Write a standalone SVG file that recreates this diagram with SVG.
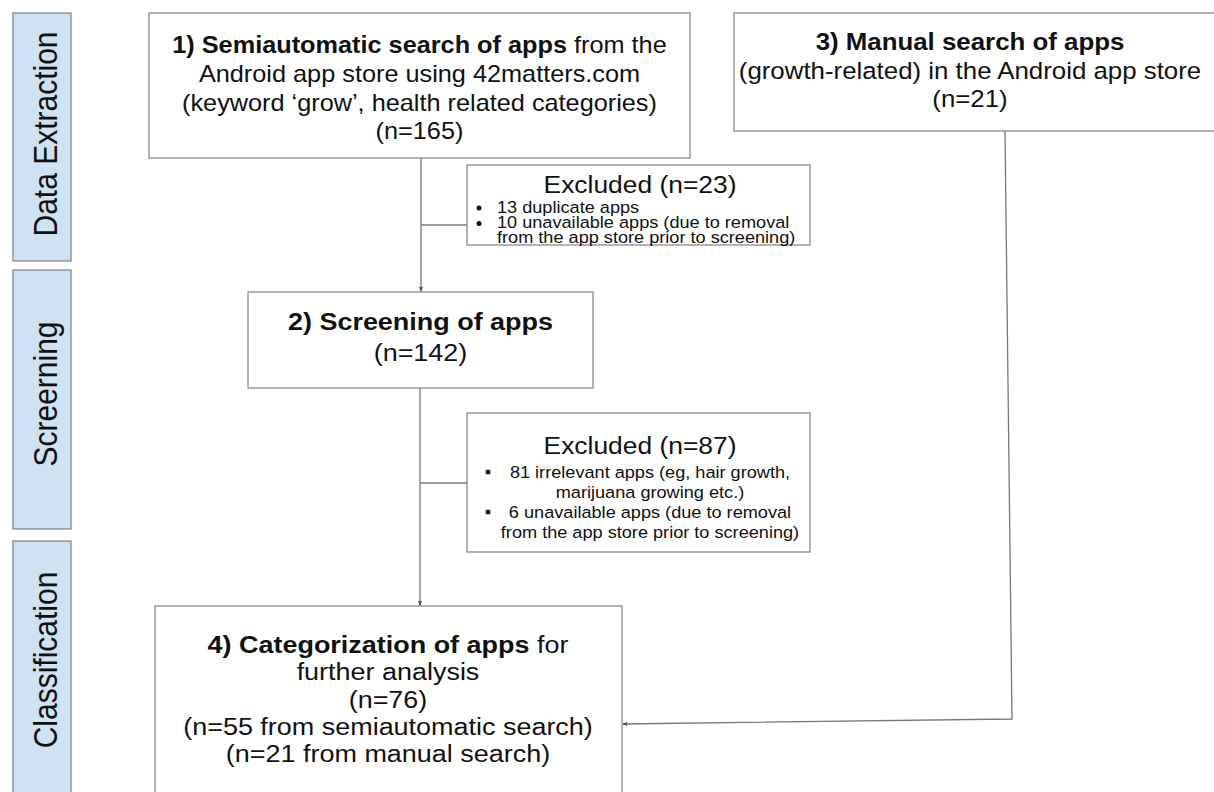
<svg xmlns="http://www.w3.org/2000/svg" width="1214" height="792" viewBox="0 0 1214 792">
<style>
.lane{fill:#cfe2f3;stroke:#7f7f7f;stroke-width:1.2}
.lab{font-family:"Liberation Sans",Arial,sans-serif;font-size:30px;fill:#111;text-anchor:middle}
.box{fill:#fff;stroke:#8a8a8a;stroke-width:1.3}
.t{font-family:"Liberation Sans",Arial,sans-serif;fill:#111;text-anchor:middle}
.b{font-weight:bold}
.et{font-family:"Liberation Sans",Arial,sans-serif;font-size:24px;fill:#111;text-anchor:middle}
.s{font-family:"Liberation Sans",Arial,sans-serif;font-size:16.5px;fill:#111}
.c{fill:none;stroke:#777;stroke-width:1.3}
.dot{fill:#111}
</style>
<defs>
<marker id="ah" markerWidth="6" markerHeight="6" refX="5" refY="3" orient="auto" markerUnits="userSpaceOnUse">
<path d="M0,1 L5,3 L0,5 z" fill="#555"/>
</marker>
</defs>
<rect width="1214" height="792" fill="#fff"/>
<g id="lane-data-extraction">
<rect class="lane" x="13" y="13" width="58" height="248"/>
<text class="lab" transform="translate(57,134) scale(1.1,1) rotate(-90)">Data Extraction</text>
</g>
<g id="lane-screening">
<rect class="lane" x="13" y="270" width="58" height="259"/>
<text class="lab" transform="translate(57,394) scale(1.1,1) rotate(-90)">Screerning</text>
</g>
<g id="lane-classification">
<rect class="lane" x="13" y="541" width="58" height="270"/>
<text class="lab" transform="translate(57,660) scale(1.1,1) rotate(-90)">Classification</text>
</g>
<g id="connectors">
<line class="c" x1="421" y1="158" x2="421" y2="292" marker-end="url(#ah)"/>
<line class="c" x1="421" y1="225" x2="467" y2="225"/>
<line class="c" x1="420" y1="388" x2="420" y2="606" marker-end="url(#ah)"/>
<line class="c" x1="420" y1="483" x2="467" y2="483"/>
<polyline class="c" points="1005,131 1012,719 622,724" marker-end="url(#ah)"/>
</g>
<g id="node1">
<rect class="box" x="149" y="13" width="541" height="145"/>
<g transform="matrix(1.1 0 0 1 -41.95 0)" font-size="23">
<text class="t" x="419.5" y="53"><tspan class="b">1) Semiautomatic search of apps</tspan> from the</text>
<text class="t" x="419.5" y="82">Android app store using 42matters.com</text>
<text class="t" x="419.5" y="111">(keyword ‘grow’, health related categories)</text>
<text class="t" x="419.5" y="139">(n=165)</text>
</g>
</g>
<g id="node3">
<rect class="box" x="734" y="13" width="490" height="118"/>
<g transform="matrix(1.1 0 0 1 -97 0)" font-size="23.5">
<text class="t b" x="970" y="50">3) Manual search of apps</text>
<text class="t" x="970" y="79">(growth-related) in the Android app store</text>
<text class="t" x="970" y="107">(n=21)</text>
</g>
</g>
<g id="excluded1">
<rect class="box" x="467" y="165" width="343" height="80"/>
<text class="et" x="640" y="193" transform="matrix(1.1 0 0 1 -64 0)">Excluded (n=23)</text>
<circle class="dot" cx="479" cy="208" r="2.5"/>
<circle class="dot" cx="479" cy="223.5" r="2.5"/>
<g transform="matrix(1.1 0 0 1 -49.7 0)">
<text class="s" x="497" y="213">13 duplicate apps</text>
<text class="s" x="497" y="228.5">10  unavailable apps (due to removal</text>
<text class="s" x="497" y="243">from the app store prior to screening)</text>
</g>
</g>
<g id="node2">
<rect class="box" x="248" y="292" width="345" height="96"/>
<g transform="matrix(1.1 0 0 1 -42.05 0)" font-size="24.5">
<text class="t b" x="420.5" y="330">2) Screening of apps</text>
<text class="t" x="420.5" y="361">(n=142)</text>
</g>
</g>
<g id="excluded2">
<rect class="box" x="467" y="413" width="343" height="139"/>
<text class="et" x="640" y="454" transform="matrix(1.1 0 0 1 -64 0)">Excluded (n=87)</text>
<circle class="dot" cx="488" cy="472" r="2.5"/>
<circle class="dot" cx="488" cy="512" r="2.5"/>
<g transform="matrix(1.1 0 0 1 -65 0)" text-anchor="middle">
<text class="s" x="650" y="478">81 irrelevant apps (eg, hair growth,</text>
<text class="s" x="650" y="498">marijuana growing etc.)</text>
<text class="s" x="650" y="518">6 unavailable apps (due to removal</text>
<text class="s" x="650" y="538">from the app store prior to screening)</text>
</g>
</g>
<g id="node4">
<rect class="box" x="155" y="606" width="467" height="210"/>
<g transform="matrix(1.1 0 0 1 -38.8 0)" font-size="24.5">
<text class="t" x="388" y="653"><tspan class="b">4) Categorization of apps</tspan> for</text>
<text class="t" x="388" y="680">further analysis</text>
<text class="t" x="388" y="708">(n=76)</text>
<text class="t" x="388" y="735">(n=55 from semiautomatic search)</text>
<text class="t" x="388" y="762">(n=21 from manual search)</text>
</g>
</g>
</svg>
